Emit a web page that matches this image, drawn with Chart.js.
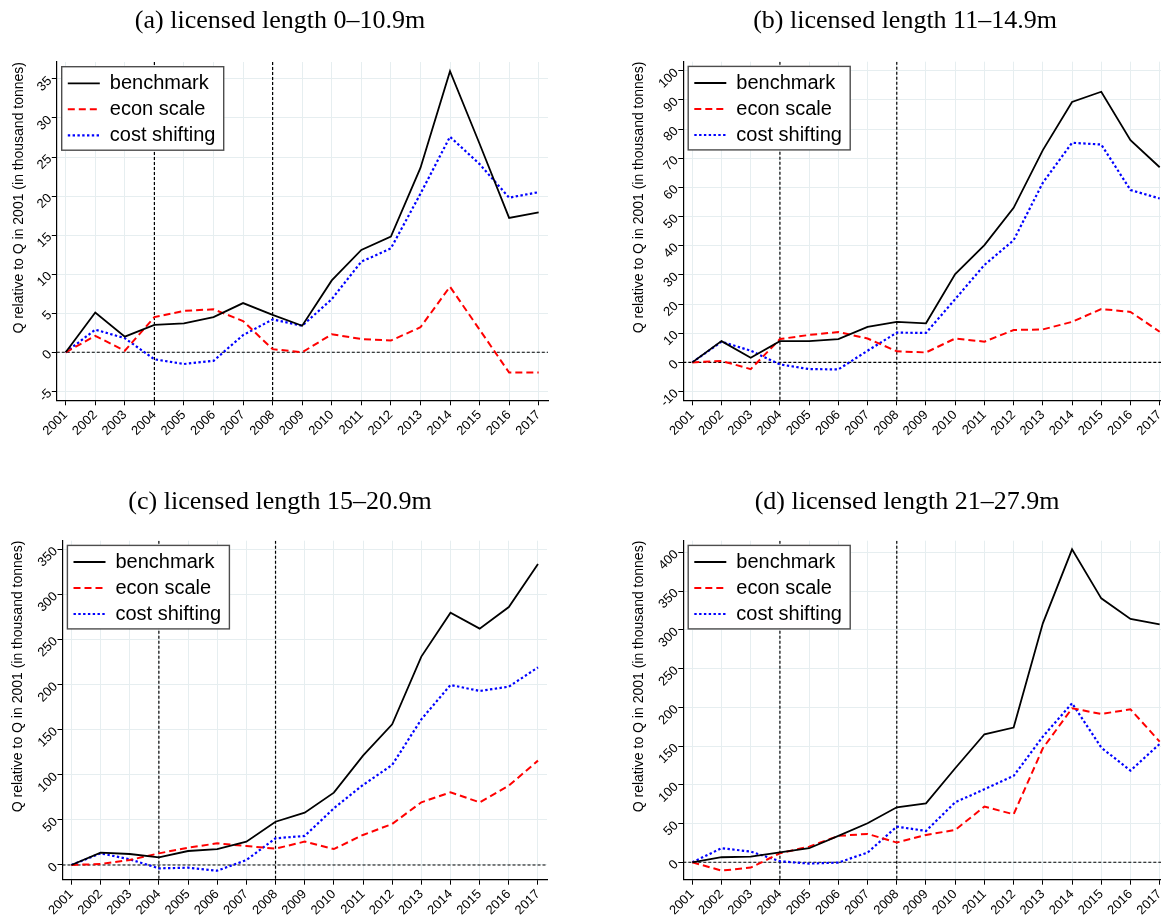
<!DOCTYPE html>
<html>
<head>
<meta charset="utf-8">
<script src="https://cdn.jsdelivr.net/npm/chart.js@4.4.1/dist/chart.umd.min.js"></script>
<style>
html,body{margin:0;padding:0;background:#fff;overflow:hidden;width:1161px;height:915px;position:relative}
canvas{position:absolute;display:block}
</style>
</head>
<body>
<canvas id="cA"></canvas>
<canvas id="cB"></canvas>
<canvas id="cC"></canvas>
<canvas id="cD"></canvas>
<script>
// ---------------- data ----------------
const years = [2001,2002,2003,2004,2005,2006,2007,2008,2009,2010,2011,2012,2013,2014,2015,2016,2017];
const seriesNames = ['benchmark','econ scale','cost shifting'];

const benchA = [0,5.1,2.0,3.5,3.7,4.5,6.3,4.8,3.4,9.2,13.1,14.8,23.6,36.0,26.7,17.2,17.9];
const econA  = [0,2.1,0.2,4.5,5.3,5.5,4.0,0.4,0.0,2.3,1.7,1.5,3.2,8.4,2.9,-2.6,-2.6];
const costA  = [0,2.9,1.8,-0.9,-1.5,-1.1,2.2,4.2,3.4,6.8,11.6,13.3,20.3,27.6,24.1,19.8,20.5];

const benchB = [0,7.3,1.6,7.3,7.3,8.0,12.2,13.9,13.4,30.3,40.2,53.0,72.8,89.3,92.8,76.2,66.9];
const econB  = [0,0.5,-2.3,8.0,9.4,10.4,8.2,3.8,3.4,8.2,7.1,11.1,11.3,13.9,18.3,17.3,10.5];
const costB  = [0,7.1,4.0,-0.7,-2.3,-2.4,4.0,10.2,10.1,21.7,33.4,41.9,61.6,75.3,74.7,59.1,56.2];

const benchC = [0,13.7,12.2,8.5,15.5,17.7,25.9,48.0,58.0,80.2,121.2,156.0,231.0,279.7,262.0,286.0,333.7];
const econC  = [0,1.1,5.5,12.9,19.2,24.0,21.1,18.1,25.9,17.7,33.3,45.5,69.5,80.6,69.5,88.0,115.7];
const costC  = [0,12.9,6.3,-3.7,-3.0,-6.3,5.5,29.6,32.2,62.8,88.7,110.9,161.5,199.6,192.9,197.7,219.1];

const benchD = [0,6.5,7.3,12.9,18.1,34.0,50.3,71.0,76.1,121.3,165.2,173.8,308.4,403.9,340.6,314.0,307.1];
const econD  = [0,-10.8,-6.9,11.6,20.2,34.0,36.6,25.4,35.3,41.7,71.8,61.9,147.1,198.7,191.4,197.4,155.7];
const costD  = [0,18.1,13.8,1.3,-1.7,-0.4,12.5,46.0,40.4,77.4,94.2,111.4,162.2,205.2,148.0,118.3,152.7];

const yTicksA = [-5,0,5,10,15,20,25,30,35];
const yTicksB = [-10,0,10,20,30,40,50,60,70,80,90,100];
const yTicksC = [0,50,100,150,200,250,300,350];
const yTicksD = [0,50,100,150,200,250,300,350,400];

const refYears = [2004, 2008];
const refLevel = 0;

const titleA = '(a) licensed length 0\u201310.9m';
const titleB = '(b) licensed length 11\u201314.9m';
const titleC = '(c) licensed length 15\u201320.9m';
const titleD = '(d) licensed length 21\u201327.9m';
const yAxisTitle = 'Q relative to Q in 2001 (in thousand tonnes)';

// ---------------- styles / layout ----------------
const seriesStyles = [
  {borderColor:'#000000', borderWidth:1.8, borderDash:[]},
  {borderColor:'#ff0000', borderWidth:2, borderDash:[7,4]},
  {borderColor:'#0000ff', borderWidth:2.2, borderDash:[2.4,2.4]}
];

const panels = [
  {id:'cA', left:0,   top:0,   w:560, h:460, title:titleA, series:[benchA,econA,costA], yTicks:yTicksA,
   yMin:-6.15, yMax:37.17, xMin:2000.699, xMax:2017.315, padL:12, padR:12, padB:9.7, xH:50, yW:44.8,
   tPad:{top:6,bottom:24.8}, yTitlePad:-1.4},
  {id:'cB', left:580, top:0,   w:581, h:460, title:titleB, series:[benchB,econB,costB], yTicks:yTicksB,
   yMin:-13.0, yMax:103.1, xMin:2000.692, xMax:2017.045, padL:69, padR:0, padB:9.7, xH:50, yW:34.3,
   tPad:{top:6,bottom:24.5}, yTitlePad:-17.9},
  {id:'cC', left:0,   top:480, w:560, h:435, title:titleC, series:[benchC,econC,costC], yTicks:yTicksC,
   yMin:-16.3, yMax:359.5, xMin:2000.695, xMax:2017.309, padL:13, padR:13, padB:0.3, xH:35, yW:49.5,
   tPad:{top:7,bottom:22.5}, yTitlePad:-3.4},
  {id:'cD', left:580, top:480, w:581, h:435, title:titleD, series:[benchD,econD,costD], yTicks:yTicksD,
   yMin:-22.5, yMax:415, xMin:2000.692, xMax:2017.045, padL:73, padR:0, padB:0.3, xH:35, yW:30.3,
   tPad:{top:7,bottom:22.5}, yTitlePad:-21.9}
];

const overlayPlugin = {
  id:'overlay',
  afterLayout(chart){
    const lg = chart.legend, a = chart.chartArea;
    if (!lg) return;
    const h = lg.height, w = lg.width;
    lg.left = a.left + 5; lg.top = a.top + 5.3;
    lg.right = lg.left + w; lg.bottom = lg.top + h;
  },
  beforeDatasetsDraw(chart){
    const {ctx, chartArea:a, scales:{x, y}} = chart;
    ctx.save();
    ctx.beginPath(); ctx.rect(a.left, a.top, a.right - a.left, a.bottom - a.top); ctx.clip();
    ctx.strokeStyle = '#000'; ctx.lineWidth = 1.2; ctx.setLineDash([3,2]);
    ctx.beginPath();
    for (const v of refYears){ const px = x.getPixelForValue(v); ctx.moveTo(px, a.top); ctx.lineTo(px, a.bottom); }
    const py = y.getPixelForValue(refLevel); ctx.moveTo(a.left, py); ctx.lineTo(a.right, py);
    ctx.stroke();
    ctx.restore();
    // legend frame on top of reference lines
    ctx.save();
    ctx.setLineDash([]);
    const bx = a.left + 4.9, by = a.top + 4.7, bw = 162, bh = 83.5;
    ctx.fillStyle = '#fff'; ctx.fillRect(bx, by, bw, bh);
    ctx.strokeStyle = '#4d4d4d'; ctx.lineWidth = 1.4; ctx.strokeRect(bx, by, bw, bh);
    ctx.restore();
    if (chart.legend) chart.legend.draw();
  }
};

const tickFont = {family:'Liberation Sans', size:13};

function legendLabels(chart){
  const base = Chart.defaults.plugins.legend.labels.generateLabels(chart);
  return base.map((it, i) => {
    const ds = chart.data.datasets[it.datasetIndex !== undefined ? it.datasetIndex : i];
    return Object.assign(it, {
      lineDash: ds.borderDash, lineWidth: ds.borderWidth,
      strokeStyle: ds.borderColor, fillStyle: ds.borderColor, pointStyle: 'line'
    });
  });
}

function build(p){
  const cv = document.getElementById(p.id);
  cv.width = p.w; cv.height = p.h;
  cv.style.left = p.left + 'px'; cv.style.top = p.top + 'px';
  cv.style.width = p.w + 'px'; cv.style.height = p.h + 'px';
  const datasets = p.series.map((vals, k) => ({
    label: seriesNames[k],
    data: years.map((yr, i) => ({x: yr, y: vals[i]})),
    borderColor: seriesStyles[k].borderColor,
    backgroundColor: seriesStyles[k].borderColor,
    borderWidth: seriesStyles[k].borderWidth,
    borderDash: seriesStyles[k].borderDash,
    pointRadius: 0, tension: 0, fill: false
  }));
  new Chart(cv, {
    type:'line',
    data:{datasets},
    plugins:[overlayPlugin],
    options:{
      responsive:false, animation:false, devicePixelRatio:1,
      layout:{padding:{left:p.padL, right:p.padR, top:0, bottom:p.padB}},
      scales:{
        x:{
          type:'linear', min:p.xMin, max:p.xMax,
          afterBuildTicks: s => { s.ticks = years.map(v => ({value:v})); },
          afterFit: s => { s.height = p.xH; s.paddingLeft = 0; s.paddingRight = 0; },
          ticks:{autoSkip:false, minRotation:45, maxRotation:45, padding:2, color:'#000', font:tickFont, callback: v => String(v)},
          grid:{color:'#e6eef0', lineWidth:1, tickLength:5, tickColor:'#000', drawTicks:true},
          border:{color:'#000', width:1.2}
        },
        y:{
          type:'linear', min:p.yMin, max:p.yMax,
          afterBuildTicks: s => { s.ticks = p.yTicks.map(v => ({value:v})); },
          afterFit: s => { s.width = p.yW; s.paddingTop = 0; s.paddingBottom = 0; },
          ticks:{minRotation:45, maxRotation:45, padding:2, color:'#000', font:tickFont, callback: v => String(v)},
          grid:{color:'#e6eef0', lineWidth:1, tickLength:5, tickColor:'#000', drawTicks:true},
          border:{color:'#000', width:1.2},
          title:{display:true, text:yAxisTitle, align:'end', color:'#000',
                 font:{family:'Liberation Sans', size:14}, padding:{top:p.yTitlePad, bottom:0}}
        }
      },
      plugins:{
        title:{display:true, text:p.title, color:'#000',
               font:{family:'Liberation Serif', size:26, weight:'normal'}, padding:p.tPad},
        legend:{position:'chartArea', align:'start',
          labels:{usePointStyle:true, pointStyle:'line', pointStyleWidth:32, padding:6, color:'#000',
                  font:{family:'Liberation Sans', size:20}, generateLabels: legendLabels}},
        tooltip:{enabled:false}
      }
    }
  });
}
panels.forEach(build);
</script>
</body>
</html>
